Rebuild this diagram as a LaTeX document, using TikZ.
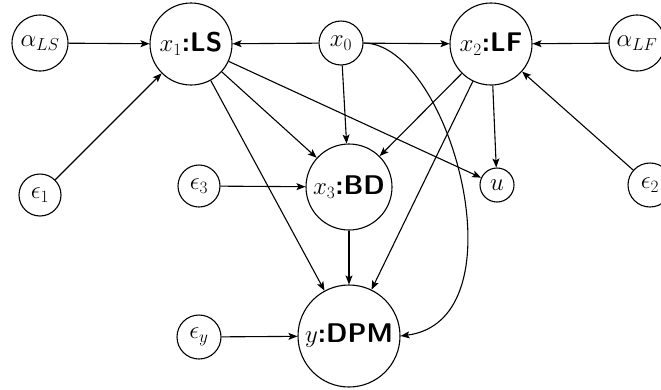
\documentclass[tikz,border=0pt]{standalone}
\usetikzlibrary{arrows.meta}
\begin{document}
\begin{tikzpicture}[x=1pt,y=-1pt,
  v/.style={circle,draw,line width=1.1pt,inner sep=0pt,font=\fontsize{27}{32}\selectfont},
  e/.style={-{Stealth[length=9pt,width=7pt,inset=2pt]},line width=1.1pt}]
\useasboundingbox (0,0) rectangle (661,389);
\node[v,minimum size=56pt] (aLS) at (40,43) {$\alpha_{LS}$};
\node[v,minimum size=82pt] (x1) at (191,44) {$x_1$\textsf{\textbf{:LS}}};
\node[v,minimum size=44pt] (x0) at (341,43) {$x_0$};
\node[v,minimum size=82pt] (x2) at (491,44) {$x_2$\textsf{\textbf{:LF}}};
\node[v,minimum size=56pt] (aLF) at (637,43) {$\alpha_{LF}$};
\node[v,minimum size=42pt] (e1) at (40,195) {$\epsilon_1$};
\node[v,minimum size=42pt] (e3) at (199,186) {$\epsilon_3$};
\node[v,minimum size=86pt] (x3) at (349,187) {$x_3$\textsf{\textbf{:BD}}};
\node[v,minimum size=34pt] (u) at (497,185) {$u$};
\node[v,minimum size=44pt] (e2) at (650,185) {$\epsilon_2$};
\node[v,minimum size=102pt] (y) at (349,336) {$y$\textsf{\textbf{:DPM}}};
\node[v,minimum size=44pt] (ey) at (199,337) {$\epsilon_y$};
\draw[e] (aLS) -- (x1);
\draw[e] (e1) -- (x1);
\draw[e] (x0) -- (x1);
\draw[e] (x0) -- (x2);
\draw[e] (aLF) -- (x2);
\draw[e] (e2) -- (x2);
\draw[e] (x0) -- (x3);
\draw[e] (x0.east) .. controls (450,43) and (525,320) .. (y.east);
\draw[e] (x1) -- (x3);
\draw[e] (x1) -- (u);
\draw[e] (x1) -- (y);
\draw[e] (x2) -- (x3);
\draw[e] (x2) -- (u);
\draw[e] (x2) -- (y);
\draw[e] (e3) -- (x3);
\draw[e] (x3) -- (y);
\draw[e] (ey) -- (y);
\end{tikzpicture}
\end{document}
